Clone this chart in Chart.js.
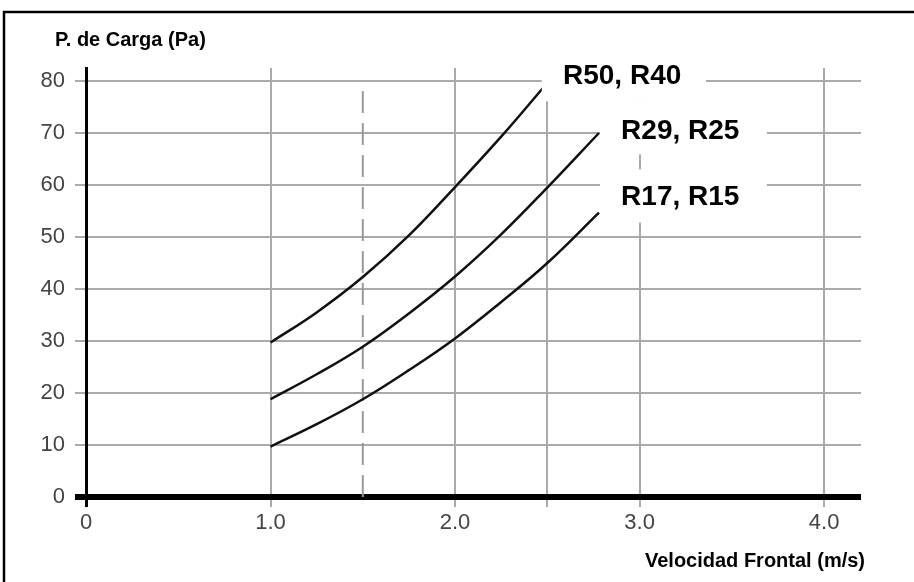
<!DOCTYPE html>
<html>
<head>
<meta charset="utf-8">
<script src="https://cdn.jsdelivr.net/npm/chart.js@4/dist/chart.umd.min.js"></script>
<style>
  html, body { margin: 0; padding: 0; background: #fff; }
  canvas { display: block; }
</style>
</head>
<body>
<canvas id="chart" width="914" height="582"></canvas>
<script>
// velocities (m/s) and pressure drop (Pa)
const xR50 = [1.0, 1.25, 1.5, 1.75, 2.0, 2.25, 2.48];
const yR50 = [29.7, 35.5, 42.3, 50.3, 59.6, 69.3, 78.8];
const xR29 = [1.0, 1.25, 1.5, 1.75, 2.0, 2.25, 2.5, 2.78];
const yR29 = [18.8, 23.6, 28.9, 35.3, 42.4, 50.5, 59.5, 70.0];
const xR17 = [1.0, 1.25, 1.5, 1.75, 2.0, 2.25, 2.5, 2.78];
const yR17 = [9.7, 14.0, 18.8, 24.4, 30.5, 37.5, 45.0, 54.7];

// dashed reference line at 1.5 m/s
const dashX = [1.5, 1.5];
const dashY = [0, 79];

const xTicks = [0, 1, 2, 2.5, 3, 4];
const yTicks = [0, 10, 20, 30, 40, 50, 60, 70, 80];

// curve labels: [text, box x0, box x1, box yTop, box yBottom, text x, text y] in data units
const curveLabels = [
  ['R50, R40', 2.47, 3.36, 86, 76.1, 2.585, 80.9],
  ['R29, R25', 2.786, 3.69, 76.1, 65.9, 2.90, 70.3],
  ['R17, R15', 2.786, 3.69, 63.0, 52.8, 2.90, 57.7]
];

const FONT = "Arial, 'Liberation Sans', Helvetica, sans-serif";

function pts(xs, ys) {
  return xs.map((x, i) => ({ x: x, y: ys[i] }));
}

function curve(xs, ys) {
  return {
    data: pts(xs, ys),
    borderColor: '#111',
    borderWidth: 2.5,
    pointRadius: 0,
    tension: 0.4,
    fill: false
  };
}

const overlay = {
  id: 'overlay',
  beforeDraw(chart) {
    const ctx = chart.ctx;
    ctx.save();
    ctx.fillStyle = '#fff';
    ctx.fillRect(0, 0, chart.width, chart.height);
    ctx.strokeStyle = '#000';
    ctx.lineWidth = 2.5;
    ctx.beginPath();
    ctx.moveTo(4, chart.height + 5);
    ctx.lineTo(4, 12);
    ctx.lineTo(chart.width + 5, 12);
    ctx.stroke();
    ctx.restore();
  },
  afterDatasetsDraw(chart) {
    const ctx = chart.ctx;
    const xs = chart.scales.x, ys = chart.scales.y;
    ctx.save();
    curveLabels.forEach(l => {
      const x0 = xs.getPixelForValue(l[1]), x1 = xs.getPixelForValue(l[2]);
      const y0 = ys.getPixelForValue(l[3]), y1 = ys.getPixelForValue(l[4]);
      ctx.fillStyle = '#fff';
      ctx.fillRect(x0, y0, x1 - x0, y1 - y0);
      ctx.fillStyle = '#000';
      ctx.font = 'bold 28px ' + FONT;
      ctx.textAlign = 'left';
      ctx.textBaseline = 'middle';
      ctx.fillText(l[0], xs.getPixelForValue(l[5]), ys.getPixelForValue(l[6]));
    });
    ctx.restore();
  },
  afterDraw(chart) {
    const ctx = chart.ctx;
    ctx.save();
    ctx.fillStyle = '#000';
    ctx.font = 'bold 20px ' + FONT;
    ctx.textBaseline = 'middle';
    ctx.textAlign = 'left';
    ctx.fillText('P. de Carga (Pa)', 55, 40);
    ctx.textAlign = 'right';
    ctx.fillText('Velocidad Frontal (m/s)', 865, 561);
    ctx.restore();
  }
};

const chart = new Chart(document.getElementById('chart').getContext('2d'), {
  type: 'line',
  data: {
    datasets: [
      curve(xR50, yR50),
      curve(xR29, yR29),
      curve(xR17, yR17),
      {
        data: pts(dashX, dashY),
        borderColor: '#999',
        borderWidth: 2,
        borderDash: [22, 10],
        pointRadius: 0,
        fill: false
      }
    ]
  },
  options: {
    responsive: false,
    animation: false,
    devicePixelRatio: 1,
    layout: { padding: { top: 68, right: 53, bottom: 0, left: 0 } },
    plugins: {
      legend: { display: false },
      tooltip: { enabled: false }
    },
    scales: {
      x: {
        type: 'linear',
        min: 0,
        max: 4.2,
        afterBuildTicks: s => { s.ticks = xTicks.map(v => ({ value: v })); },
        afterFit: s => { s.height = 85; },
        border: { display: false },
        grid: {
          color: c => c.tick && c.tick.value === 0 ? '#000' : '#aaa',
          lineWidth: c => c.tick && c.tick.value === 0 ? 3 : 2,
          tickLength: 10
        },
        ticks: {
          padding: 3,
          color: '#444',
          font: { family: FONT, size: 22 },
          maxRotation: 0,
          autoSkip: false,
          callback: v => v === 0 ? '0' : (v === 2.5 ? '' : v.toFixed(1))
        }
      },
      y: {
        min: 0,
        max: 82.5,
        afterBuildTicks: s => { s.ticks = yTicks.map(v => ({ value: v })); },
        afterFit: s => { s.width = 86; },
        border: { display: true, color: '#000', width: 3 },
        grid: {
          color: c => c.tick && c.tick.value === 0 ? '#000' : '#aaa',
          lineWidth: c => c.tick && c.tick.value === 0 ? 6 : 2,
          tickLength: 11
        },
        ticks: {
          padding: 10,
          color: '#444',
          font: { family: FONT, size: 22 },
          autoSkip: false
        }
      }
    }
  },
  plugins: [overlay]
});
</script>
</body>
</html>
